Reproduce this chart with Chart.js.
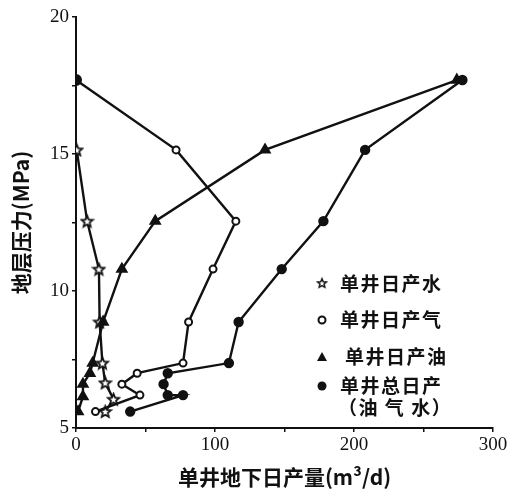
<!DOCTYPE html>
<html>
<head>
<meta charset="utf-8">
<script src="https://cdn.jsdelivr.net/npm/chart.js@4/dist/chart.umd.min.js"></script>
<style>
html,body{margin:0;padding:0;background:#fff;}
canvas{display:block;}
</style>
</head>
<body>
<canvas id="c" width="512" height="494"></canvas>
<script>
// ---- data ----
const waterPressure = [15.15, 12.55, 10.8, 8.87, 7.37, 6.65, 6.05, 5.6];
const waterRate     = [0.5, 8, 16.5, 17, 19, 21, 27, 21];

const gasPressure = [17.7, 15.15, 12.55, 10.8, 8.87, 7.37, 7.0, 6.6, 6.2, 5.6];
const gasRate     = [0, 72, 115, 98.6, 81, 77, 44, 33, 46, 14];

const oilPressure = [17.7, 15.15, 12.55, 10.8, 8.87, 7.37, 7.0, 6.6, 6.15, 5.6];
const oilRate     = [274, 136, 57, 33, 19.5, 12, 10, 5, 5, 1.5];

const totalPressure = [17.7, 15.15, 12.55, 10.8, 8.87, 7.37, 7.0, 6.6, 6.2, 6.2, 5.6];
const totalRate     = [278, 208, 178, 148, 117, 110, 66, 63, 66, 77, 39];

const xTickLabels = [0, 100, 200, 300];
const yTickLabels = [5, 10, 15, 20];

const legendLabels = ['单井日产水', '单井日产气', '单井日产油', '单井总日产', '（油 气 水）'];
const xTitle = '单井地下日产量(m³/d)';
const yTitle = '地层压力(MPa)';

// ---- helpers ----
function pts(ys, xs) { return xs.map((x, i) => ({x: x, y: ys[i]})); }

function makeStar(size) {
  const c = document.createElement('canvas');
  c.width = size; c.height = size;
  const g = c.getContext('2d');
  const cx = size / 2, cy = size / 2 + 0.5, R = size / 2 - 1.5, r = R * 0.45;
  g.beginPath();
  for (let i = 0; i < 10; i++) {
    const a = -Math.PI / 2 + i * Math.PI / 5;
    const rr = i % 2 === 0 ? R : r;
    const px = cx + rr * Math.cos(a), py = cy + rr * Math.sin(a);
    if (i === 0) g.moveTo(px, py); else g.lineTo(px, py);
  }
  g.closePath();
  g.fillStyle = '#fff';
  g.fill();
  g.lineWidth = 1.8;
  g.strokeStyle = '#111';
  g.stroke();
  return c;
}
const starImg = makeStar(15);

const LINE = '#111';
const base = {showLine: true, borderColor: LINE, borderWidth: 2.4, tension: 0};

const legendPlugin = {
  id: 'customLegend',
  afterDraw(chart) {
    const ctx = chart.ctx;
    ctx.save();
    ctx.fillStyle = '#111';
    ctx.strokeStyle = '#111';
    ctx.textBaseline = 'middle';
    ctx.textAlign = 'left';
    ctx.font = 'bold 19px "Noto Sans CJK SC"';
    try { ctx.letterSpacing = '1.5px'; } catch (e) {}
    const mx = 322, tx = 340;
    const rows = [284, 320, 357, 386];
    ctx.drawImage(starImg, mx - 6, rows[0] - 7, 12, 12);
    ctx.fillText(legendLabels[0], tx, rows[0]);
    ctx.beginPath(); ctx.arc(mx, rows[1], 3.5, 0, Math.PI * 2);
    ctx.fillStyle = '#fff'; ctx.fill(); ctx.lineWidth = 2; ctx.stroke();
    ctx.fillStyle = '#111';
    ctx.fillText(legendLabels[1], tx, rows[1]);
    ctx.beginPath();
    ctx.moveTo(mx, rows[2] - 5); ctx.lineTo(mx + 5, rows[2] + 4); ctx.lineTo(mx - 5, rows[2] + 4);
    ctx.closePath(); ctx.fill();
    ctx.fillText(legendLabels[2], tx + 5, rows[2]);
    ctx.beginPath(); ctx.arc(mx, rows[3], 4.5, 0, Math.PI * 2); ctx.fill();
    ctx.fillText(legendLabels[3], tx, rows[3]);
    ctx.fillText(legendLabels[4], tx - 2, rows[3] + 22);
    ctx.restore();
  }
};

const gasFill = gasRate.map((v, i) => i === 0 ? LINE : '#fff');

new Chart(document.getElementById('c'), {
  type: 'scatter',
  data: {
    datasets: [
      Object.assign({}, base, {
        label: legendLabels[3], data: pts(totalPressure, totalRate),
        pointStyle: 'circle', pointRadius: 4, pointBackgroundColor: LINE, pointBorderColor: LINE
      }),
      Object.assign({}, base, {
        label: legendLabels[2], data: pts(oilPressure, oilRate),
        pointStyle: 'triangle', pointRadius: 5, pointBackgroundColor: LINE, pointBorderColor: LINE
      }),
      Object.assign({}, base, {
        label: legendLabels[1], data: pts(gasPressure, gasRate),
        pointStyle: 'circle', pointRadius: gasRate.map((v, i) => i === 0 ? 5 : 3.5),
        pointBackgroundColor: gasFill, pointBorderColor: LINE, pointBorderWidth: 2
      }),
      Object.assign({}, base, {
        label: legendLabels[0], data: pts(waterPressure, waterRate),
        pointStyle: starImg
      })
    ]
  },
  options: {
    responsive: false,
    animation: false,
    layout: {padding: {top: 17, right: 19, left: 0, bottom: 0}},
    plugins: {legend: {display: false}, tooltip: {enabled: false}},
    scales: {
      x: {
        type: 'linear', min: 0, max: 300,
        afterFit(s) { s.height = 66; },
        border: {color: '#111', width: 2},
        grid: {drawOnChartArea: false, drawTicks: true, tickLength: 4, color: '#111', lineWidth: 1.5},
        ticks: {
          stepSize: 50, color: '#111', padding: 2, maxRotation: 0,
          font: {family: '"Liberation Serif"', size: 19},
          callback: v => xTickLabels.includes(v) ? String(v) : ''
        },
        title: {display: true, text: xTitle, color: '#111', padding: {top: 4, bottom: 4},
          font: {family: '"Noto Sans CJK SC"', size: 21, weight: 'bold'}}
      },
      y: {
        type: 'linear', min: 5, max: 20,
        afterFit(s) { s.width = 76; },
        border: {color: '#111', width: 2},
        grid: {drawOnChartArea: false, drawTicks: true, tickLength: 4, color: '#111', lineWidth: 1.5},
        ticks: {
          stepSize: 2.5, color: '#111', padding: 3,
          font: {family: '"Liberation Serif"', size: 19},
          callback: v => yTickLabels.includes(v) ? String(v) : ''
        },
        title: {display: true, text: yTitle, color: '#111', padding: {top: 8, bottom: 2},
          font: {family: '"Noto Sans CJK SC"', size: 21, weight: 'bold'}}
      }
    }
  },
  plugins: [legendPlugin]
});
</script>
</body>
</html>
